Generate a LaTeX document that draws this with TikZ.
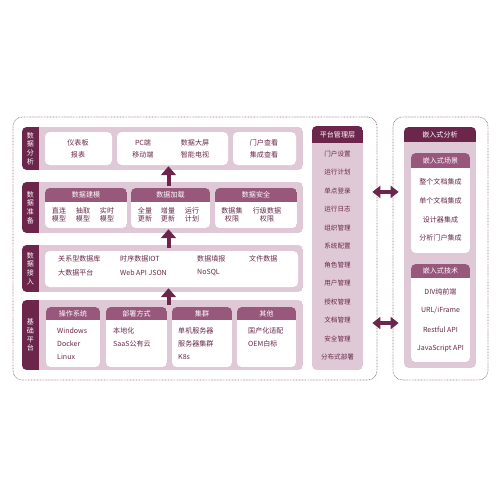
\documentclass[tikz,border=0pt]{standalone}
\usepackage{fontspec}
\newfontfamily\cjk{Noto Sans CJK SC}
\usetikzlibrary{arrows.meta, positioning, fit, calc}

\definecolor{darkc}{RGB}{108,38,76}
\definecolor{midc}{RGB}{152,88,124}
\definecolor{bandc}{RGB}{224,201,214}
\definecolor{txtc}{RGB}{104,40,74}
\definecolor{dotc}{RGB}{150,118,134}

% box with a coloured title strip: name, x1, y1, x2, y2, strip bottom, title, strip colour, body colour
\newcommand{\capbox}[9]{%
  \node[fit={(#2,#3)(#4,#5)}, inner sep=0] (#1) {};
  \begin{scope}
    \clip[rounded corners=4pt] (#2,#3) rectangle (#4,#5);
    \fill[#9] (#2,#3) rectangle (#4,#5);
    \fill[#8] (#2,#3) rectangle (#4,#6);
  \end{scope}
  \node[head] (#1-t) at ($(#2,#3)!0.5!(#4,#6)$) {#7};
}
% one layer of the left stack: name, y1, y2, vertical label
\newcommand{\tierband}[4]{%
  \node[fit={(22,#2)(303,#3)}, inner sep=0] (#1) {};
  \begin{scope}
    \clip[rounded corners=4pt] (22,#2) rectangle (303,#3);
    \fill[bandc] (22,#2) rectangle (303,#3);
    \fill[darkc] (22,#2) rectangle (39,#3);
  \end{scope}
  \node[tag] (#1-l) at (30.5,{(#2+#3)/2}) {#4};
}

\begin{document}
\begin{tikzpicture}[
    x=0.03cm, y=-0.03cm,
    item/.style={font=\cjk\fontsize{6}{7}\selectfont, text=txtc, inner sep=0, align=center},
    pmitem/.style={font=\cjk\fontsize{5.6}{7}\selectfont, text=txtc, inner sep=0},
    head/.style={font=\cjk\fontsize{6}{7}\selectfont, text=white, inner sep=0},
    tag/.style={font=\cjk\fontsize{6}{7.4}\selectfont, text=white, inner sep=0, align=center},
    wbox/.style={fill=white, rounded corners=4pt, inner sep=0},
    frame/.style={draw=dotc, line width=0.6pt, dash pattern=on 0.6pt off 0.7pt,
                  rounded corners=8pt, inner sep=0},
    uparr/.style={draw=darkc, line width=1.2mm, -{Triangle[width=4.5mm, length=2.7mm]}},
    dblarr/.style={draw=darkc, line width=1.2mm,
                   {Triangle[width=3.6mm, length=2.4mm]}-{Triangle[width=3.6mm, length=2.4mm]}}
]
    \useasboundingbox (0,0) rectangle (500,500);

    % dotted outer frames
    \node[frame, fit={(13,117)(377,380)}] (lframe) {};
    \node[frame, fit={(393,117)(488,380)}] (rframe) {};

    % data analysis
    \tierband{ana}{127}{170}{数\\据\\分\\析}
    \node[wbox, fit={(45,132)(112,165)}] (ana-b1) {};
    \node[wbox, fit={(117,132)(228,165)}] (ana-b2) {};
    \node[wbox, fit={(233,132)(296,165)}] (ana-b3) {};
    \foreach \x/\y/\t [count=\i] in {78/143/仪表板, 78/155/报表, 143/143/PC端, 195/143/数据大屏,
        143/155/移动端, 195/155/智能电视, 264/143/门户查看, 264/155/集成查看}
      \node[item] (ana-\i) at (\x,\y) {\t};

    % data preparation
    \tierband{prep}{182}{233}{数\\据\\准\\备}
    \capbox{prep-b1}{45}{188}{127}{228}{202}{数据建模}{midc}{white}
    \capbox{prep-b2}{131}{188}{210}{228}{202}{数据加载}{midc}{white}
    \capbox{prep-b3}{215}{188}{297}{228}{202}{数据安全}{midc}{white}
    \foreach \x/\t [count=\i] in {59/直连\\模型, 83/抽取\\模型, 107/实时\\模型, 145/全量\\更新,
        168/增量\\更新, 192/运行\\计划, 232/数据集\\权限, 267/行级数据\\权限}
      \node[item] (prep-\i) at (\x,215) {\t};

    % data access
    \tierband{acc}{245}{292}{数\\据\\接\\入}
    \node[wbox, fit={(45,251)(298,287)}] (acc-b1) {};
    \foreach \x/\y/\t [count=\i] in {58/259/关系型数据库, 58/273/大数据平台, 120/259/时序数据IOT,
        120/273/Web API JSON, 197/259/数据填报, 197/273/NoSQL, 249/259/文件数据}
      \node[item, anchor=west] (acc-\i) at (\x,\y) {\t};

    % base platform
    \tierband{base}{300}{370}{基\\础\\平\\台}
    \capbox{base-b1}{46}{307}{100}{367}{320}{操作系统}{midc}{white}
    \capbox{base-b2}{106}{307}{167}{367}{320}{部署方式}{midc}{white}
    \capbox{base-b3}{172}{307}{232}{367}{320}{集群}{midc}{white}
    \capbox{base-b4}{237}{307}{296}{367}{320}{其他}{midc}{white}
    \foreach \x/\y/\t [count=\i] in {57/331/Windows, 57/344/Docker, 57/357/Linux, 113/331/本地化,
        113/344/SaaS公有云, 178/331/单机服务器, 178/344/服务器集群, 178/357/K8s,
        248/331/国产化适配, 248/344/OEM白标}
      \node[item, anchor=west] (base-\i) at (\x,\y) {\t};

    % arrows between layers
    \draw[uparr] ($(prep.north)+(6,4)$) -- ($(ana.south)+(6,-4)$);
    \draw[uparr] ($(acc.north)+(6,3)$)  -- ($(prep.south)+(6,-4)$);
    \draw[uparr] ($(base.north)+(6,5)$) -- ($(acc.south)+(6,-4)$);

    % platform management
    \capbox{pm}{312}{126}{363}{370}{143}{平台管理层}{darkc}{bandc}
    \foreach \t [count=\i] in {门户设置, 运行计划, 单点登录, 运行日志, 组织管理, 系统配置,
        角色管理, 用户管理, 授权管理, 文档管理, 安全管理, 分布式部署}
      \node[pmitem] (pm-\i) at (337.5,{154+(\i-1)*18.45}) {\t};

    % embedded analysis
    \capbox{emb}{404}{127}{476}{368}{142}{嵌入式分析}{darkc}{bandc}
    \capbox{emb-s}{411}{153}{470}{253}{168}{嵌入式场景}{midc}{white}
    \foreach \t [count=\i] in {整个文档集成, 单个文档集成, 设计器集成, 分析门户集成}
      \node[item] (emb-s-\i) at (440.5,{182+(\i-1)*18.7}) {\t};
    \capbox{emb-t}{411}{264}{470}{362}{278}{嵌入式技术}{midc}{white}
    \foreach \t [count=\i] in {DIV纯前端, URL/iFrame, Restful API, JavaScript API}
      \node[item] (emb-t-\i) at (440.5,{292+(\i-1)*18.7}) {\t};

    % links between the two frames
    \draw[dblarr] ($(lframe.east |- pm-3)+(-5,1)$) -- ($(rframe.west |- pm-3)+(6,1)$);
    \draw[dblarr] ($(lframe.east |- pm-10)+(-5,3)$) -- ($(rframe.west |- pm-10)+(6,3)$);
\end{tikzpicture}
\end{document}
